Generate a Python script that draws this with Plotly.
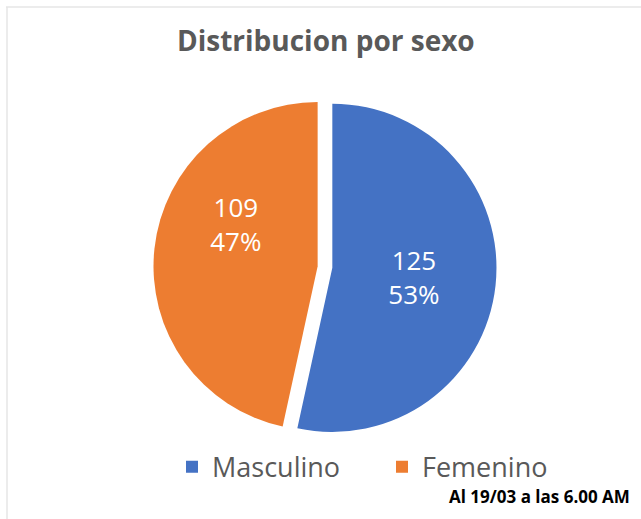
import plotly.graph_objects as go

labels = ["Masculino", "Femenino"]
values = [125, 109]
colors = ["#4472C4", "#ED7D31"]

fig = go.Figure()
fig.add_trace(go.Pie(
    labels=labels,
    values=values,
    sort=False,
    direction="clockwise",
    rotation=0,
    pull=[0.045, 0.045],
    marker=dict(colors=colors, line=dict(width=0)),
    # the Femenino label sits higher in the original, padded lines lift it
    texttemplate=["%{value}<br>%{percent:.0%}", "%{value}<br>%{percent:.0%}<br> <br> "],
    textposition="inside",
    insidetextorientation="horizontal",
    textfont=dict(family="Open Sans", size=26, color="white"),
    domain=dict(x=[0.236, 0.778], y=[0.155, 0.816]),
    hoverinfo="label+value+percent",
))

fig.update_layout(
    width=641, height=519,
    margin=dict(l=0, r=0, t=0, b=0),
    paper_bgcolor="white",
    plot_bgcolor="white",
    showlegend=True,
    legend=dict(
        orientation="h", x=172 / 641, xanchor="left", y=0.1, yanchor="middle",
        font=dict(family="Open Sans", size=27, color="#595959"),
        itemsizing="constant", traceorder="normal",
        entrywidth=165,
    ),
    annotations=[
        dict(text="<b>Distribucion por sexo</b>", x=326 / 641, y=1 - 40 / 519,
             xref="paper", yref="paper", showarrow=False, xanchor="center", yanchor="middle",
             font=dict(family="Open Sans", size=28, color="#595959")),
        dict(text="<b>Al 19/03 a las 6.00 AM</b>", x=632 / 641, y=1 - 496 / 519,
             xref="paper", yref="paper", showarrow=False, xanchor="right", yanchor="middle",
             font=dict(family="Open Sans", size=17, color="black")),
    ],
    shapes=[
        dict(type="line", xref="paper", yref="paper", x0=6 / 641, x1=1, y0=1 - 7 / 519, y1=1 - 7 / 519,
             line=dict(color="#e6e6e6", width=1.5)),
        dict(type="line", xref="paper", yref="paper", x0=7 / 641, x1=7 / 641, y0=0, y1=1 - 7 / 519,
             line=dict(color="#e6e6e6", width=1.5)),
    ],
)

fig.write_html("out.html", config={"displayModeBar": False},
               post_script="document.body.style.margin='0';")
